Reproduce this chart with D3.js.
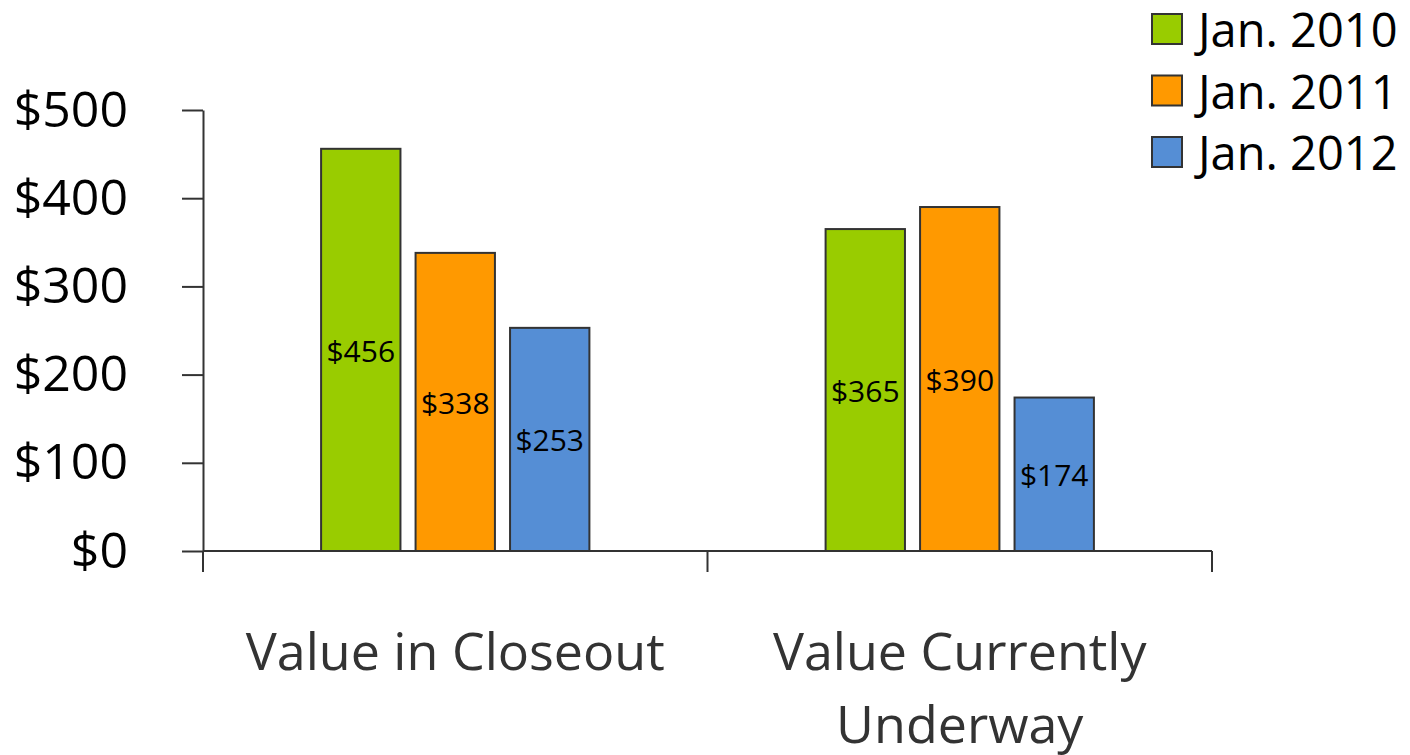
<!DOCTYPE html>
<html lang="en">
<head>
  <meta charset="utf-8">
  <title>Value by period</title>
  <script src="https://cdnjs.cloudflare.com/ajax/libs/d3/7.8.5/d3.min.js"></script>
  <style>
    html, body { margin: 0; padding: 0; background: #fff; }
    svg text { font-family: "Open Sans", "Noto Sans", sans-serif; }
  </style>
</head>
<body>
<div id="ChartArea"></div>
<script>
// data
const categories = ["Value in Closeout", "Value Currently Underway"];
const categoryLines = [["Value in Closeout"], ["Value Currently", "Underway"]];
const series = ["Jan. 2010", "Jan. 2011", "Jan. 2012"];
const values2010 = [456, 365];
const values2011 = [338, 390];
const values2012 = [253, 174];
const yTicks = [0, 100, 200, 300, 400, 500];
const colors = ["#99cc00", "#ff9900", "#558ed5"];

const seriesValues = [values2010, values2011, values2012];

const width = 1410, height = 755;
const plot = {left: 203, right: 1212, top: 110, bottom: 551};

const svg = d3.select("#ChartArea").append("svg")
    .attr("width", width)
    .attr("height", height);

const x0 = d3.scaleBand()
    .domain(categories)
    .range([plot.left, plot.right]);

const x1 = d3.scaleBand()
    .domain(series)
    .range([0, x0.bandwidth()])
    .paddingInner(0.16)
    .paddingOuter(1.25);

const y = d3.scaleLinear()
    .domain([0, 500])
    .range([plot.bottom, plot.top]);

// y axis
const yAxis = svg.append("g")
    .attr("transform", "translate(" + plot.left + ",0)")
    .call(d3.axisLeft(y).tickValues(yTicks).tickFormat(d => "$" + d)
      .tickSize(21).tickSizeOuter(0).tickPadding(54));
yAxis.select(".domain").attr("stroke", "#333").attr("stroke-width", 2);
yAxis.selectAll(".tick line").attr("stroke", "#333").attr("stroke-width", 2);
yAxis.selectAll(".tick text")
    .attr("fill", "#000")
    .style("font-size", "50px");

// x axis line + ticks at band edges
const edges = categories.map(c => x0(c)).concat([plot.right]);
svg.append("line")
    .attr("x1", plot.left).attr("x2", plot.right)
    .attr("y1", y(0)).attr("y2", y(0))
    .attr("stroke", "#333").attr("stroke-width", 2);
svg.selectAll(".xtick")
  .data(edges)
  .enter().append("line")
    .attr("class", "xtick")
    .attr("x1", d => d).attr("x2", d => d)
    .attr("y1", y(0)).attr("y2", y(0) + 21)
    .attr("stroke", "#333").attr("stroke-width", 2);

// category labels
const catG = svg.selectAll(".cat")
  .data(categories)
  .enter().append("text")
    .attr("class", "cat")
    .attr("text-anchor", "middle")
    .attr("fill", "#333")
    .style("font-size", "52px");
catG.each(function(d, i) {
  const t = d3.select(this);
  categoryLines[i].forEach((line, j) => {
    t.append("tspan")
      .attr("x", x0(d) + x0.bandwidth() / 2)
      .attr("y", 670 + j * 73)
      .text(line);
  });
});

// bars
const rows = [];
categories.forEach((c, ci) => {
  series.forEach((s, si) => {
    rows.push({cat: c, ser: s, idx: si, value: seriesValues[si][ci]});
  });
});

svg.selectAll(".bar")
  .data(rows)
  .enter().append("rect")
    .attr("class", "bar")
    .attr("x", d => x0(d.cat) + x1(d.ser))
    .attr("y", d => y(d.value))
    .attr("width", x1.bandwidth())
    .attr("height", d => y(0) - y(d.value))
    .attr("fill", d => colors[d.idx])
    .attr("stroke", "#333")
    .attr("stroke-width", 2);

// value labels in the middle of each bar
svg.selectAll(".val")
  .data(rows)
  .enter().append("text")
    .attr("class", "val")
    .attr("x", d => x0(d.cat) + x1(d.ser) + x1.bandwidth() / 2)
    .attr("y", d => (y(d.value) + y(0)) / 2 + 12)
    .attr("text-anchor", "middle")
    .attr("fill", "#000")
    .style("font-size", "30px")
    .text(d => "$" + d.value);

// legend
const legend = svg.selectAll(".legend")
  .data(series)
  .enter().append("g")
    .attr("class", "legend")
    .attr("transform", (d, i) => "translate(1152," + (14 + i * 61.5) + ")");
legend.append("rect")
    .attr("width", 30).attr("height", 30)
    .attr("fill", (d, i) => colors[i])
    .attr("stroke", "#333")
    .attr("stroke-width", 2);
legend.append("text")
    .attr("x", 46)
    .attr("y", 33)
    .attr("fill", "#000")
    .style("font-size", "47px")
    .text(d => d);
</script>
</body>
</html>
